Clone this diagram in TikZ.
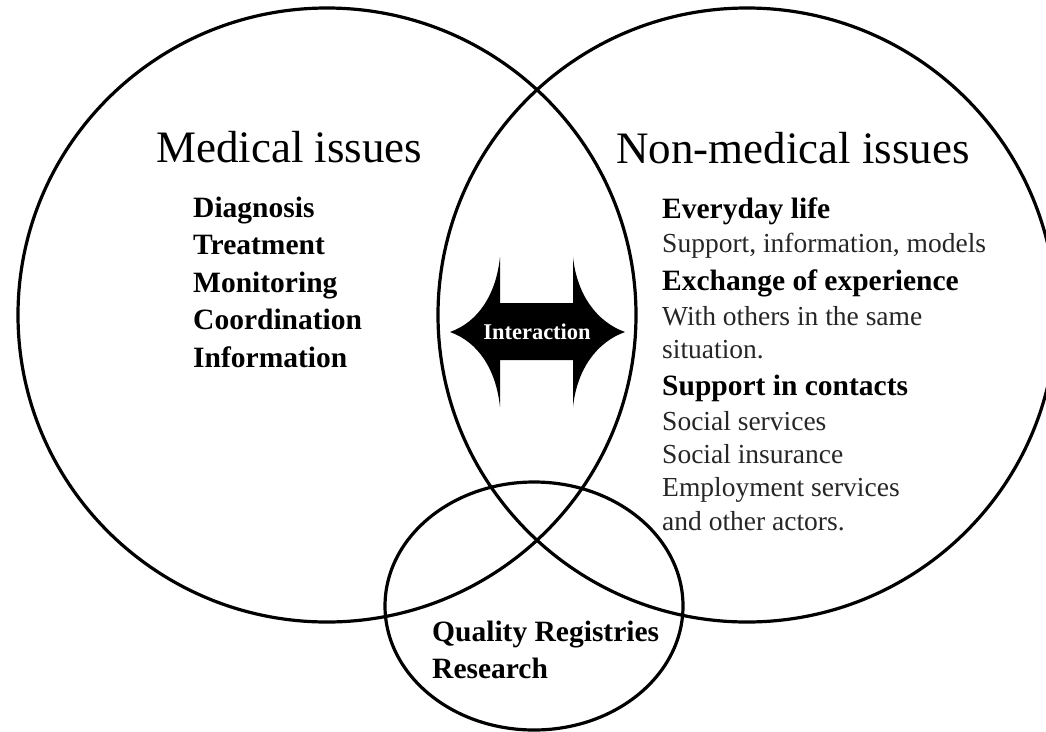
\documentclass[tikz,border=0pt]{standalone}
\usepackage{fontspec}
\setmainfont{Liberation Serif}
\usetikzlibrary{shapes.geometric}
\begin{document}
\begin{tikzpicture}[x=1pt,y=-1pt,
  ring/.style={draw=black,line width=3.2pt,ellipse,inner sep=0pt},
  head/.style={anchor=base west,inner sep=0pt,font=\fontsize{45}{50}\selectfont},
  bitem/.style={anchor=base west,inner sep=0pt,font=\fontsize{29.5}{32}\selectfont\bfseries},
  ritem/.style={anchor=base west,inner sep=0pt,font=\fontsize{27.5}{30}\selectfont,text=black!85}]
\useasboundingbox (0,0) rectangle (1046,731);
\fill[white] (0,0) rectangle (1046,731);
% circles
\node[ring,minimum width=618pt,minimum height=614pt] (med) at (327,315) {};
\node[ring,minimum width=618pt,minimum height=614pt] (nonmed) at (747,315) {};
\node[ring,minimum width=298pt,minimum height=248pt] (qual) at (534,606) {};
% interaction arrow
\fill[black] (450,332) .. controls (478,322) and (496,295) .. (500,257)
  -- (500,303) -- (573,303) -- (573,257)
  .. controls (577,295) and (597,322) .. (625,332)
  .. controls (597,342) and (577,369) .. (573,407)
  -- (573,360) -- (500,360) -- (500,407)
  .. controls (496,369) and (478,342) .. (450,332) -- cycle;
\node[text=white,font=\fontsize{22.5}{25}\selectfont\bfseries,inner sep=0pt] (inter) at (537,332) {Interaction};
% left texts
\node[head] (medt) at (156,162) {Medical issues};
\node[bitem] (m1) at (193,217) {Diagnosis};
\node[bitem] (m2) at (193,254.5) {Treatment};
\node[bitem] (m3) at (193,292) {Monitoring};
\node[bitem] (m4) at (193,329.5) {Coordination};
\node[bitem] (m5) at (193,367) {Information};
% right texts
\node[head] (nont) at (616,163) {Non-medical issues};
\node[bitem] (n1) at (662,218) {Everyday life};
\node[ritem] (n2) at (662,252) {Support, information, models};
\node[bitem] (n3) at (662,290) {Exchange of experience};
\node[ritem] (n4) at (662,325) {With others in the same};
\node[ritem] (n5) at (662,358) {situation.};
\node[bitem] (n6) at (662,395) {Support in contacts};
\node[ritem] (n7) at (662,430) {Social services};
\node[ritem] (n8) at (662,463) {Social insurance};
\node[ritem] (n9) at (662,496) {Employment services};
\node[ritem] (n10) at (662,530) {and other actors.};
% bottom texts
\node[bitem] (q1) at (432,641) {Quality Registries};
\node[bitem] (q2) at (432,678) {Research};
\end{tikzpicture}
\end{document}
